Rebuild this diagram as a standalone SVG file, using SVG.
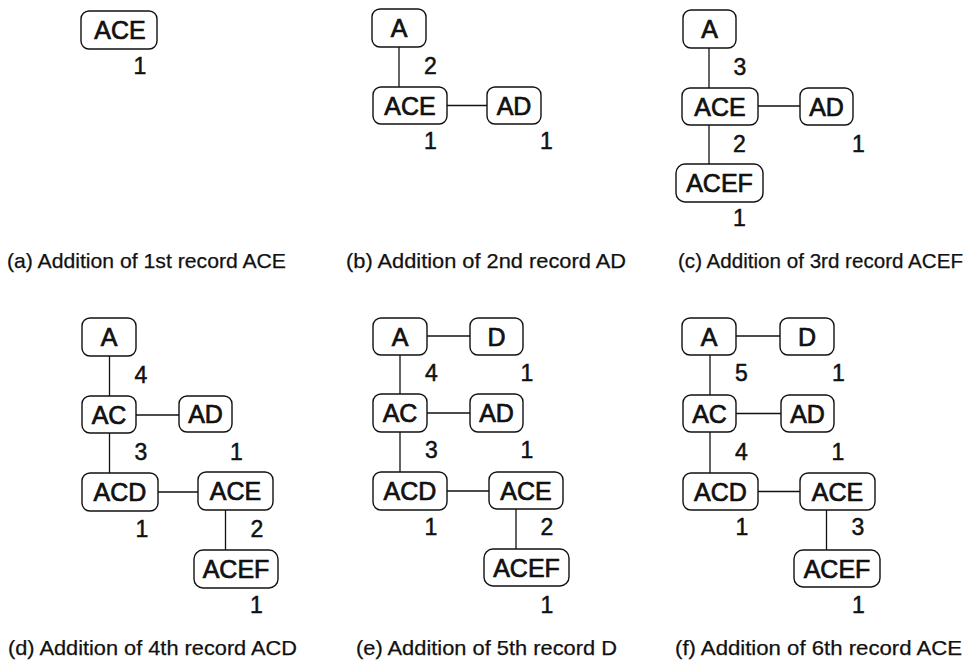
<svg xmlns="http://www.w3.org/2000/svg" width="977" height="666" viewBox="0 0 977 666">
  <style>
    .box { fill: #ffffff; stroke: #111111; stroke-width: 1.4; }
    .lbl { font-family: "Liberation Sans", Arial, sans-serif; font-size: 25px; fill: #111111; stroke: #111111; stroke-width: 0.7; text-anchor: middle; }
    .cnt { font-family: "Liberation Sans", Arial, sans-serif; font-size: 23px; fill: #111111; stroke: #111111; stroke-width: 0.5; text-anchor: middle; }
    .cap { font-family: "Liberation Sans", Arial, sans-serif; font-size: 21px; fill: #111111; stroke: #111111; stroke-width: 0.25; }
    .edge { stroke: #111111; stroke-width: 1.3; fill: none; }
  </style>

  <!-- connectors -->
  <g id="connectors">
    <!-- (b) -->
    <line class="edge" x1="399" y1="47" x2="399" y2="87"/>
    <line class="edge" x1="447" y1="105.5" x2="487" y2="105.5"/>
    <!-- (c) -->
    <line class="edge" x1="709" y1="48" x2="709" y2="88"/>
    <line class="edge" x1="758" y1="106" x2="800" y2="106"/>
    <line class="edge" x1="709" y1="125" x2="709" y2="164"/>
    <!-- (d) -->
    <line class="edge" x1="109.5" y1="356" x2="109.5" y2="396"/>
    <line class="edge" x1="136" y1="415" x2="179" y2="415"/>
    <line class="edge" x1="109.5" y1="433" x2="109.5" y2="473"/>
    <line class="edge" x1="158" y1="492" x2="198" y2="492"/>
    <line class="edge" x1="225.5" y1="510" x2="225.5" y2="550"/>
    <!-- (e) -->
    <line class="edge" x1="427" y1="336" x2="470" y2="336"/>
    <line class="edge" x1="400" y1="355" x2="400" y2="394"/>
    <line class="edge" x1="427" y1="413" x2="470" y2="413"/>
    <line class="edge" x1="400" y1="432" x2="400" y2="472"/>
    <line class="edge" x1="447" y1="491" x2="489" y2="491"/>
    <line class="edge" x1="516" y1="509" x2="516" y2="549"/>
    <!-- (f) -->
    <line class="edge" x1="736" y1="336" x2="780" y2="336"/>
    <line class="edge" x1="710" y1="355" x2="710" y2="395"/>
    <line class="edge" x1="736" y1="413.5" x2="781" y2="413.5"/>
    <line class="edge" x1="710" y1="432" x2="710" y2="473"/>
    <line class="edge" x1="758" y1="491.5" x2="800" y2="491.5"/>
    <line class="edge" x1="826.5" y1="510" x2="826.5" y2="550"/>
  </g>

  <!-- (a) first record -->
  <g id="a-ACE"><rect class="box" x="81" y="11" width="76" height="38" rx="8"/><text class="lbl" x="120" y="39">ACE</text></g>
  <text class="cnt" x="140" y="74">1</text>

  <!-- (b) second record -->
  <g id="b-A"><rect class="box" x="372" y="9" width="54" height="38" rx="8"/><text class="lbl" x="399" y="37">A</text></g>
  <g id="b-ACE"><rect class="box" x="373" y="87" width="74" height="37" rx="8"/><text class="lbl" x="410" y="114.5">ACE</text></g>
  <g id="b-AD"><rect class="box" x="487" y="87" width="54" height="37" rx="8"/><text class="lbl" x="514" y="114.5">AD</text></g>
  <text class="cnt" x="430.5" y="74">2</text>
  <text class="cnt" x="430.5" y="149">1</text>
  <text class="cnt" x="546.5" y="149">1</text>

  <!-- (c) third record -->
  <g id="c-A"><rect class="box" x="683" y="10" width="53" height="38" rx="8"/><text class="lbl" x="709.5" y="38">A</text></g>
  <g id="c-ACE"><rect class="box" x="682" y="88" width="76" height="37" rx="8"/><text class="lbl" x="720" y="115.5">ACE</text></g>
  <g id="c-AD"><rect class="box" x="800" y="88" width="53" height="37" rx="8"/><text class="lbl" x="826.5" y="115.5">AD</text></g>
  <g id="c-ACEF"><rect class="box" x="676" y="164" width="87" height="38" rx="9"/><text class="lbl" x="719.5" y="192">ACEF</text></g>
  <text class="cnt" x="740" y="75">3</text>
  <text class="cnt" x="739.5" y="152">2</text>
  <text class="cnt" x="858.5" y="152">1</text>
  <text class="cnt" x="739.5" y="226">1</text>

  <!-- (d) fourth record -->
  <g id="d-A"><rect class="box" x="82" y="318" width="54" height="38" rx="8"/><text class="lbl" x="109" y="346">A</text></g>
  <g id="d-AC"><rect class="box" x="82" y="396" width="54" height="37" rx="8"/><text class="lbl" x="109" y="423.5">AC</text></g>
  <g id="d-AD"><rect class="box" x="179" y="396" width="53" height="36" rx="8"/><text class="lbl" x="205.5" y="423">AD</text></g>
  <g id="d-ACD"><rect class="box" x="82" y="473" width="76" height="38" rx="8"/><text class="lbl" x="120" y="501">ACD</text></g>
  <g id="d-ACE"><rect class="box" x="198" y="472" width="75" height="38" rx="8"/><text class="lbl" x="235.5" y="500">ACE</text></g>
  <g id="d-ACEF"><rect class="box" x="194" y="550" width="84" height="38" rx="9"/><text class="lbl" x="236" y="578">ACEF</text></g>
  <text class="cnt" x="141" y="383">4</text>
  <text class="cnt" x="141" y="460">3</text>
  <text class="cnt" x="236.5" y="460">1</text>
  <text class="cnt" x="142" y="537">1</text>
  <text class="cnt" x="257" y="537">2</text>
  <text class="cnt" x="256.5" y="613">1</text>

  <!-- (e) fifth record -->
  <g id="e-A"><rect class="box" x="373" y="318" width="54" height="37" rx="8"/><text class="lbl" x="400" y="345.5">A</text></g>
  <g id="e-D"><rect class="box" x="470" y="318" width="53" height="37" rx="8"/><text class="lbl" x="496.5" y="345.5">D</text></g>
  <g id="e-AC"><rect class="box" x="373" y="394" width="54" height="38" rx="8"/><text class="lbl" x="400" y="422">AC</text></g>
  <g id="e-AD"><rect class="box" x="470" y="394" width="53" height="38" rx="8"/><text class="lbl" x="496.5" y="422">AD</text></g>
  <g id="e-ACD"><rect class="box" x="373" y="472" width="74" height="38" rx="8"/><text class="lbl" x="410" y="500">ACD</text></g>
  <g id="e-ACE"><rect class="box" x="489" y="472" width="74" height="37" rx="8"/><text class="lbl" x="526" y="499.5">ACE</text></g>
  <g id="e-ACEF"><rect class="box" x="484" y="549" width="85" height="37" rx="9"/><text class="lbl" x="526.5" y="576.5">ACEF</text></g>
  <text class="cnt" x="431.5" y="381">4</text>
  <text class="cnt" x="527" y="381">1</text>
  <text class="cnt" x="431.5" y="458">3</text>
  <text class="cnt" x="527" y="458">1</text>
  <text class="cnt" x="431" y="535">1</text>
  <text class="cnt" x="547" y="535">2</text>
  <text class="cnt" x="547" y="613">1</text>

  <!-- (f) sixth record -->
  <g id="f-A"><rect class="box" x="682" y="318" width="54" height="37" rx="8"/><text class="lbl" x="709" y="345.5">A</text></g>
  <g id="f-D"><rect class="box" x="780" y="318" width="54" height="37" rx="8"/><text class="lbl" x="807" y="345.5">D</text></g>
  <g id="f-AC"><rect class="box" x="683" y="395" width="53" height="37" rx="8"/><text class="lbl" x="709.5" y="422.5">AC</text></g>
  <g id="f-AD"><rect class="box" x="781" y="395" width="53" height="37" rx="8"/><text class="lbl" x="807.5" y="422.5">AD</text></g>
  <g id="f-ACD"><rect class="box" x="683" y="473" width="75" height="37" rx="8"/><text class="lbl" x="720.5" y="500.5">ACD</text></g>
  <g id="f-ACE"><rect class="box" x="800" y="473" width="75" height="37" rx="8"/><text class="lbl" x="837.5" y="500.5">ACE</text></g>
  <g id="f-ACEF"><rect class="box" x="794" y="550" width="86" height="37" rx="9"/><text class="lbl" x="837" y="577.5">ACEF</text></g>
  <text class="cnt" x="741.5" y="381">5</text>
  <text class="cnt" x="838.5" y="381">1</text>
  <text class="cnt" x="741.5" y="460">4</text>
  <text class="cnt" x="838" y="460">1</text>
  <text class="cnt" x="742" y="535">1</text>
  <text class="cnt" x="858" y="535">3</text>
  <text class="cnt" x="858.5" y="613">1</text>

  <!-- captions -->
  <g id="captions">
    <text class="cap" x="7" y="268" textLength="279" lengthAdjust="spacingAndGlyphs">(a) Addition of 1st record ACE</text>
    <text class="cap" x="346" y="268" textLength="280" lengthAdjust="spacingAndGlyphs">(b) Addition of 2nd record AD</text>
    <text class="cap" x="678" y="268" textLength="285" lengthAdjust="spacingAndGlyphs">(c) Addition of 3rd record ACEF</text>
    <text class="cap" x="8" y="655" textLength="289" lengthAdjust="spacingAndGlyphs">(d) Addition of 4th record ACD</text>
    <text class="cap" x="356" y="655" textLength="261" lengthAdjust="spacingAndGlyphs">(e) Addition of 5th record D</text>
    <text class="cap" x="675" y="655" textLength="287" lengthAdjust="spacingAndGlyphs">(f) Addition of 6th record ACE</text>
  </g>
</svg>
